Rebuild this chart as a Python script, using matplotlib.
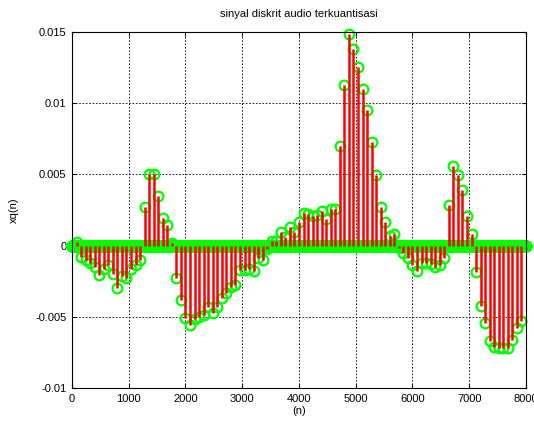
import numpy as np
import matplotlib
matplotlib.use('Agg')
import matplotlib.pyplot as plt

plt.rcParams['font.family'] = ['Liberation Sans', 'DejaVu Sans']

# sinyal terkuantisasi: sampel tak-nol tiap 80 titik (nilai dalam 1e-3)
n_total = 8000
n_step = 80
xq_vals = [
    0.25, -0.78, -1.0, -1.2, -1.5, -2.07, -1.67, -1.36, -2.02, -3.0,
    -2.13, -2.3, -1.67, -1.36, -1.01, 2.7, 5.0, 5.05, 3.5, 1.95,
    1.45, 0.15, -2.3, -3.85, -5.1, -5.6, -5.15, -5.0, -4.9, -4.3,
    -4.75, -4.3, -3.7, -3.3, -2.88, -2.75, -1.7, -1.7, -1.65, -1.8,
    -0.85, -1.0, -0.25, 0.3, 0.35, 0.98, 0.6, 1.33, 0.95, 1.68,
    2.3, 2.2, 2.1, 2.15, 2.45, 1.85, 2.55, 2.55, 7.02, 11.28,
    14.84, 13.78, 12.56, 11.0, 9.52, 7.28, 4.96, 2.7, 1.66, 0.65,
    0.82, -0.2, -0.5, -0.9, -1.36, -1.75, -1.25, -1.22, -1.3, -1.48,
    -1.36, -0.85, 2.82, 5.6, 4.93, 3.88, 2.1, 0.83, -1.83, -4.27,
    -5.46, -6.72, -7.12, -7.2, -7.2, -7.17, -6.65, -5.81, -5.32,
]

n = np.arange(n_total + 1)
xq = np.zeros(n_total + 1)
idx = np.arange(1, len(xq_vals) + 1) * n_step
xq[idx] = np.array(xq_vals) * 1e-3

fig = plt.figure(figsize=(5.34, 4.26), dpi=100)
ax = fig.add_axes([0.1348, 0.0892, 0.8502, 0.8357])

markerline, stemlines, baseline = ax.stem(n, xq, linefmt='r-', markerfmt='go', basefmt=' ')
plt.setp(stemlines, color='#ff0000', linewidth=1.8, zorder=3)
plt.setp(markerline, markerfacecolor='none', markeredgecolor='#00ff00',
         markersize=7, markeredgewidth=1.6, zorder=2, clip_on=False)
baseline.set_visible(False)

ax.set_xlim(0, 8000)
ax.set_ylim(-0.01, 0.015)
ax.set_xticks(np.arange(0, 8001, 1000))
ax.set_yticks([-0.01, -0.005, 0, 0.005, 0.01, 0.015])
ax.set_yticklabels(['-0.01', '-0.005', '0', '0.005', '0.01', '0.015'])

ax.grid(True, color='k', linestyle=(0, (2, 2)), linewidth=0.6)
ax.set_axisbelow(True)
ax.tick_params(direction='in', top=True, right=True, length=3, labelsize=8, pad=4)
for s in ax.spines.values():
    s.set_linewidth(0.8)

ax.set_title('sinyal diskrit audio terkuantisasi', fontsize=8, pad=11)
ax.set_xlabel('(n)', fontsize=8, labelpad=2)
ax.set_ylabel('xq(n)', fontsize=8, labelpad=12)

plt.savefig('out.png', dpi=100)
